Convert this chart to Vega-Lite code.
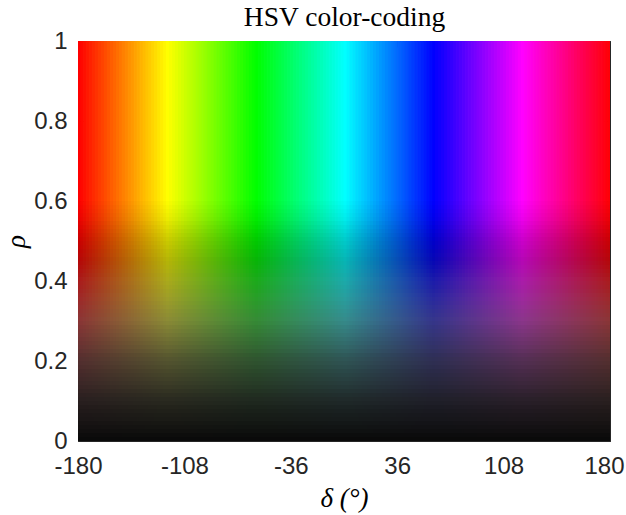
{
"$schema": "https://vega.github.io/schema/vega-lite/v6.json",
"width": 532,
"height": 400,
"autosize": {"type": "none"},
"padding": {"left": 78, "top": 41, "right": 16, "bottom": 74},
"background": "white",
"config": {
  "view": {"stroke": null},
  "axis": {"domainColor": "#262626", "tickColor": "#262626", "labelColor": "#262626", "labelFont": "Liberation Sans", "labelFontSize": 24, "tickSize": -6, "grid": false, "zindex": 1, "domainWidth": 1, "tickWidth": 1, "labelFlush": false, "labelOverlap": false, "titleFont": "Liberation Serif", "titleFontStyle": "italic", "titleFontWeight": "normal", "titleFontSize": 27, "titleColor": "#000000"}
},
"datasets": {
"hue": [
{"a":-180,"b":-178},{"a":-178,"b":-176},{"a":-176,"b":-174},{"a":-174,"b":-172},{"a":-172,"b":-170},{"a":-170,"b":-168},{"a":-168,"b":-166},{"a":-166,"b":-164},{"a":-164,"b":-162},{"a":-162,"b":-160},
{"a":-160,"b":-158},{"a":-158,"b":-156},{"a":-156,"b":-154},{"a":-154,"b":-152},{"a":-152,"b":-150},{"a":-150,"b":-148},{"a":-148,"b":-146},{"a":-146,"b":-144},{"a":-144,"b":-142},{"a":-142,"b":-140},
{"a":-140,"b":-138},{"a":-138,"b":-136},{"a":-136,"b":-134},{"a":-134,"b":-132},{"a":-132,"b":-130},{"a":-130,"b":-128},{"a":-128,"b":-126},{"a":-126,"b":-124},{"a":-124,"b":-122},{"a":-122,"b":-120},
{"a":-120,"b":-118},{"a":-118,"b":-116},{"a":-116,"b":-114},{"a":-114,"b":-112},{"a":-112,"b":-110},{"a":-110,"b":-108},{"a":-108,"b":-106},{"a":-106,"b":-104},{"a":-104,"b":-102},{"a":-102,"b":-100},
{"a":-100,"b":-98},{"a":-98,"b":-96},{"a":-96,"b":-94},{"a":-94,"b":-92},{"a":-92,"b":-90},{"a":-90,"b":-88},{"a":-88,"b":-86},{"a":-86,"b":-84},{"a":-84,"b":-82},{"a":-82,"b":-80},
{"a":-80,"b":-78},{"a":-78,"b":-76},{"a":-76,"b":-74},{"a":-74,"b":-72},{"a":-72,"b":-70},{"a":-70,"b":-68},{"a":-68,"b":-66},{"a":-66,"b":-64},{"a":-64,"b":-62},{"a":-62,"b":-60},
{"a":-60,"b":-58},{"a":-58,"b":-56},{"a":-56,"b":-54},{"a":-54,"b":-52},{"a":-52,"b":-50},{"a":-50,"b":-48},{"a":-48,"b":-46},{"a":-46,"b":-44},{"a":-44,"b":-42},{"a":-42,"b":-40},
{"a":-40,"b":-38},{"a":-38,"b":-36},{"a":-36,"b":-34},{"a":-34,"b":-32},{"a":-32,"b":-30},{"a":-30,"b":-28},{"a":-28,"b":-26},{"a":-26,"b":-24},{"a":-24,"b":-22},{"a":-22,"b":-20},
{"a":-20,"b":-18},{"a":-18,"b":-16},{"a":-16,"b":-14},{"a":-14,"b":-12},{"a":-12,"b":-10},{"a":-10,"b":-8},{"a":-8,"b":-6},{"a":-6,"b":-4},{"a":-4,"b":-2},{"a":-2,"b":0},
{"a":0,"b":2},{"a":2,"b":4},{"a":4,"b":6},{"a":6,"b":8},{"a":8,"b":10},{"a":10,"b":12},{"a":12,"b":14},{"a":14,"b":16},{"a":16,"b":18},{"a":18,"b":20},
{"a":20,"b":22},{"a":22,"b":24},{"a":24,"b":26},{"a":26,"b":28},{"a":28,"b":30},{"a":30,"b":32},{"a":32,"b":34},{"a":34,"b":36},{"a":36,"b":38},{"a":38,"b":40},
{"a":40,"b":42},{"a":42,"b":44},{"a":44,"b":46},{"a":46,"b":48},{"a":48,"b":50},{"a":50,"b":52},{"a":52,"b":54},{"a":54,"b":56},{"a":56,"b":58},{"a":58,"b":60},
{"a":60,"b":62},{"a":62,"b":64},{"a":64,"b":66},{"a":66,"b":68},{"a":68,"b":70},{"a":70,"b":72},{"a":72,"b":74},{"a":74,"b":76},{"a":76,"b":78},{"a":78,"b":80},
{"a":80,"b":82},{"a":82,"b":84},{"a":84,"b":86},{"a":86,"b":88},{"a":88,"b":90},{"a":90,"b":92},{"a":92,"b":94},{"a":94,"b":96},{"a":96,"b":98},{"a":98,"b":100},
{"a":100,"b":102},{"a":102,"b":104},{"a":104,"b":106},{"a":106,"b":108},{"a":108,"b":110},{"a":110,"b":112},{"a":112,"b":114},{"a":114,"b":116},{"a":116,"b":118},{"a":118,"b":120},
{"a":120,"b":122},{"a":122,"b":124},{"a":124,"b":126},{"a":126,"b":128},{"a":128,"b":130},{"a":130,"b":132},{"a":132,"b":134},{"a":134,"b":136},{"a":136,"b":138},{"a":138,"b":140},
{"a":140,"b":142},{"a":142,"b":144},{"a":144,"b":146},{"a":146,"b":148},{"a":148,"b":150},{"a":150,"b":152},{"a":152,"b":154},{"a":154,"b":156},{"a":156,"b":158},{"a":158,"b":160},
{"a":160,"b":162},{"a":162,"b":164},{"a":164,"b":166},{"a":166,"b":168},{"a":168,"b":170},{"a":170,"b":172},{"a":172,"b":174},{"a":174,"b":176},{"a":176,"b":178},{"a":178,"b":180}
],
"rho": [
{"r":0,"s":0.01},{"r":0.01,"s":0.02},{"r":0.02,"s":0.03},{"r":0.03,"s":0.04},{"r":0.04,"s":0.05},{"r":0.05,"s":0.06},{"r":0.06,"s":0.07},{"r":0.07,"s":0.08},{"r":0.08,"s":0.09},{"r":0.09,"s":0.1},
{"r":0.1,"s":0.11},{"r":0.11,"s":0.12},{"r":0.12,"s":0.13},{"r":0.13,"s":0.14},{"r":0.14,"s":0.15},{"r":0.15,"s":0.16},{"r":0.16,"s":0.17},{"r":0.17,"s":0.18},{"r":0.18,"s":0.19},{"r":0.19,"s":0.2},
{"r":0.2,"s":0.21},{"r":0.21,"s":0.22},{"r":0.22,"s":0.23},{"r":0.23,"s":0.24},{"r":0.24,"s":0.25},{"r":0.25,"s":0.26},{"r":0.26,"s":0.27},{"r":0.27,"s":0.28},{"r":0.28,"s":0.29},{"r":0.29,"s":0.3},
{"r":0.3,"s":0.31},{"r":0.31,"s":0.32},{"r":0.32,"s":0.33},{"r":0.33,"s":0.34},{"r":0.34,"s":0.35},{"r":0.35,"s":0.36},{"r":0.36,"s":0.37},{"r":0.37,"s":0.38},{"r":0.38,"s":0.39},{"r":0.39,"s":0.4},
{"r":0.4,"s":0.41},{"r":0.41,"s":0.42},{"r":0.42,"s":0.43},{"r":0.43,"s":0.44},{"r":0.44,"s":0.45},{"r":0.45,"s":0.46},{"r":0.46,"s":0.47},{"r":0.47,"s":0.48},{"r":0.48,"s":0.49},{"r":0.49,"s":0.5},
{"r":0.5,"s":0.51},{"r":0.51,"s":0.52},{"r":0.52,"s":0.53},{"r":0.53,"s":0.54},{"r":0.54,"s":0.55},{"r":0.55,"s":0.56},{"r":0.56,"s":0.57},{"r":0.57,"s":0.58},{"r":0.58,"s":0.59},{"r":0.59,"s":0.6},
{"r":0.6,"s":0.61},{"r":0.61,"s":0.62},{"r":0.62,"s":0.63},{"r":0.63,"s":0.64},{"r":0.64,"s":0.65},{"r":0.65,"s":0.66},{"r":0.66,"s":0.67},{"r":0.67,"s":0.68},{"r":0.68,"s":0.69},{"r":0.69,"s":0.7},
{"r":0.7,"s":0.71},{"r":0.71,"s":0.72},{"r":0.72,"s":0.73},{"r":0.73,"s":0.74},{"r":0.74,"s":0.75},{"r":0.75,"s":0.76},{"r":0.76,"s":0.77},{"r":0.77,"s":0.78},{"r":0.78,"s":0.79},{"r":0.79,"s":0.8},
{"r":0.8,"s":0.81},{"r":0.81,"s":0.82},{"r":0.82,"s":0.83},{"r":0.83,"s":0.84},{"r":0.84,"s":0.85},{"r":0.85,"s":0.86},{"r":0.86,"s":0.87},{"r":0.87,"s":0.88},{"r":0.88,"s":0.89},{"r":0.89,"s":0.9},
{"r":0.9,"s":0.91},{"r":0.91,"s":0.92},{"r":0.92,"s":0.93},{"r":0.93,"s":0.94},{"r":0.94,"s":0.95},{"r":0.95,"s":0.96},{"r":0.96,"s":0.97},{"r":0.97,"s":0.98},{"r":0.98,"s":0.99},{"r":0.99,"s":1}
]
},
"layer": [
{
  "data": {"name": "hue"},
  "mark": {"type": "rect", "strokeWidth": 1, "clip": true},
  "encoding": {
    "x": {"field": "a", "type": "quantitative", "scale": {"domain": [-180, 180], "nice": false, "zero": false},
          "axis": {"orient": "bottom", "values": [-180, -108, -36, 36, 108, 180], "labelPadding": 19,
                   "labelExpr": "replace(datum.label, '−', '-')",
                   "labelAlign": {"condition": {"test": "datum.value == 180", "value": "right"}, "value": "center"},
                   "labelOffset": {"condition": {"test": "datum.value == 180", "value": 14}, "value": 0},
                   "title": "δ (°)", "titleBaseline": "alphabetic", "titleAnchor": "middle", "titleY": 65}},
    "x2": {"field": "b"},
    "y": {"datum": 0, "type": "quantitative", "scale": {"domain": [0, 1], "nice": false, "zero": false},
          "axis": {"orient": "left", "values": [0, 0.2, 0.4, 0.6, 0.8, 1], "format": "~g", "labelPadding": 17, "title": "ρ", "titleAngle": -90, "titleAlign": "center", "titleBaseline": "alphabetic", "titleX": -54, "titleY": 200}},
    "y2": {"datum": 1},
    "color": {"field": "a", "type": "quantitative", "legend": null,
              "scale": {"domain": [-180, -120, -60, 0, 60, 120, 180], "range": ["#ff0000", "#ffff00", "#00ff00", "#00ffff", "#0000ff", "#ff00ff", "#ff0000"], "interpolate": "rgb"}},
    "stroke": {"field": "a", "type": "quantitative", "legend": null,
              "scale": {"domain": [-180, -120, -60, 0, 60, 120, 180], "range": ["#ff0000", "#ffff00", "#00ff00", "#00ffff", "#0000ff", "#ff00ff", "#ff0000"], "interpolate": "rgb"}}
  }
},
{
  "data": {"name": "rho"},
  "mark": {"type": "rect"},
  "encoding": {
    "x": {"datum": -180, "type": "quantitative",
          "axis": {"orient": "top", "values": [-180, -108, -36, 36, 108, 180], "labels": false,
                   "title": "HSV color-coding", "titleFont": "Liberation Serif", "titleFontStyle": "normal", "titleFontSize": 27.5, "titleColor": "#000000",
                   "titleBaseline": "alphabetic", "titleAlign": "center", "titleAnchor": "middle", "titleX": 266, "titleY": -16}},
    "x2": {"datum": 180},
    "y": {"field": "r", "type": "quantitative",
          "axis": {"orient": "right", "values": [0, 0.2, 0.4, 0.6, 0.8, 1], "labels": false, "title": null}},
    "y2": {"field": "s"},
    "color": {"field": "r", "type": "quantitative", "legend": null,
              "scale": {"domain": [0, 0.1, 0.2, 0.3, 0.35, 0.4, 0.45, 0.5, 1], "range": ["#0a0a0a", "#212121", "#373737", "#505050", "#4b4b4b", "#3c3c3c", "#141414", "#000000", "#000000"], "interpolate": "rgb"}},
    "opacity": {"field": "r", "type": "quantitative", "legend": null,
              "scale": {"domain": [0, 0.1, 0.2, 0.3, 0.4, 0.45, 0.5, 0.55, 0.6, 1], "range": [1, 0.96, 0.85, 0.66, 0.43, 0.31, 0.2, 0.08, 0, 0]}}
  }
}
],
"resolve": {"scale": {"color": "independent"}, "axis": {"x": "independent", "y": "independent"}}
}
